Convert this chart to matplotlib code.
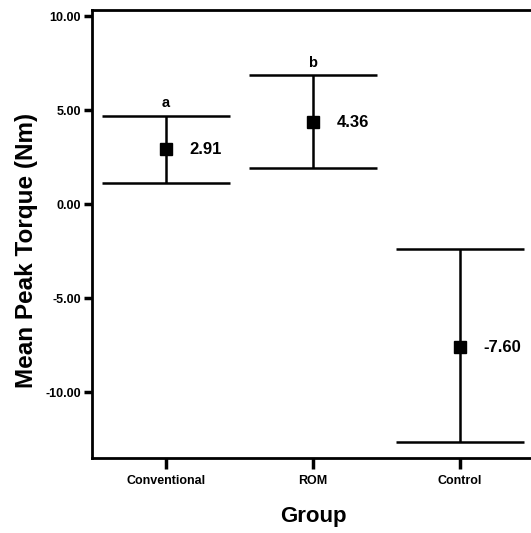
import numpy as np
import matplotlib.pyplot as plt

plt.rcParams['font.family'] = ['Liberation Sans', 'DejaVu Sans']
plt.rcParams['font.weight'] = 'bold'

groups = ["Conventional", "ROM", "Control"]
means = [2.91, 4.36, -7.60]
ci_lower = [1.13, 1.93, -12.64]
ci_upper = [4.69, 6.84, -2.39]
letters = ["a", "b", ""]
yticks = [10.0, 5.0, 0.0, -5.0, -10.0]

fig = plt.figure(figsize=(5.31, 5.33), dpi=100)
ax = fig.add_axes([0.1733, 0.1407, 0.832, 0.8405])

x = np.arange(len(groups))
yerr = [np.subtract(means, ci_lower), np.subtract(ci_upper, means)]
ax.errorbar(x, means, yerr=yerr, fmt='s', color='black', ms=8,
            elinewidth=1.8, capsize=46, capthick=1.8)

for xi, m, hi, lab in zip(x, means, ci_upper, letters):
    ax.text(xi + 0.16, m, f"{m:.2f}", ha='left', va='center',
            fontsize=12, fontweight='bold')
    if lab:
        ax.text(xi, hi + 0.3, lab, ha='center', va='bottom',
                fontsize=10.5, fontweight='bold')

ax.set_xlim(-0.5, 2.5)
ax.set_ylim(-13.5, 10.32)
ax.set_xticks(x)
ax.set_xticklabels(groups, fontsize=9, fontweight='bold')
ax.set_yticks(yticks)
ax.set_yticklabels([f"{v:.2f}" for v in yticks], fontsize=9, fontweight='bold')
ax.tick_params(axis='x', direction='out', length=8, width=2.5, pad=4)
ax.tick_params(axis='y', direction='out', length=6, width=2.5, pad=2)

for s in ax.spines.values():
    s.set_linewidth(2)
    s.set_color('black')

ax.set_ylabel("Mean Peak Torque (Nm)", fontsize=17.5, fontweight='bold')
ax.yaxis.set_label_coords(-0.122, 0.464)
ax.set_xlabel("Group", fontsize=16, fontweight='bold', labelpad=14)

fig.savefig("out.png", dpi=100)
